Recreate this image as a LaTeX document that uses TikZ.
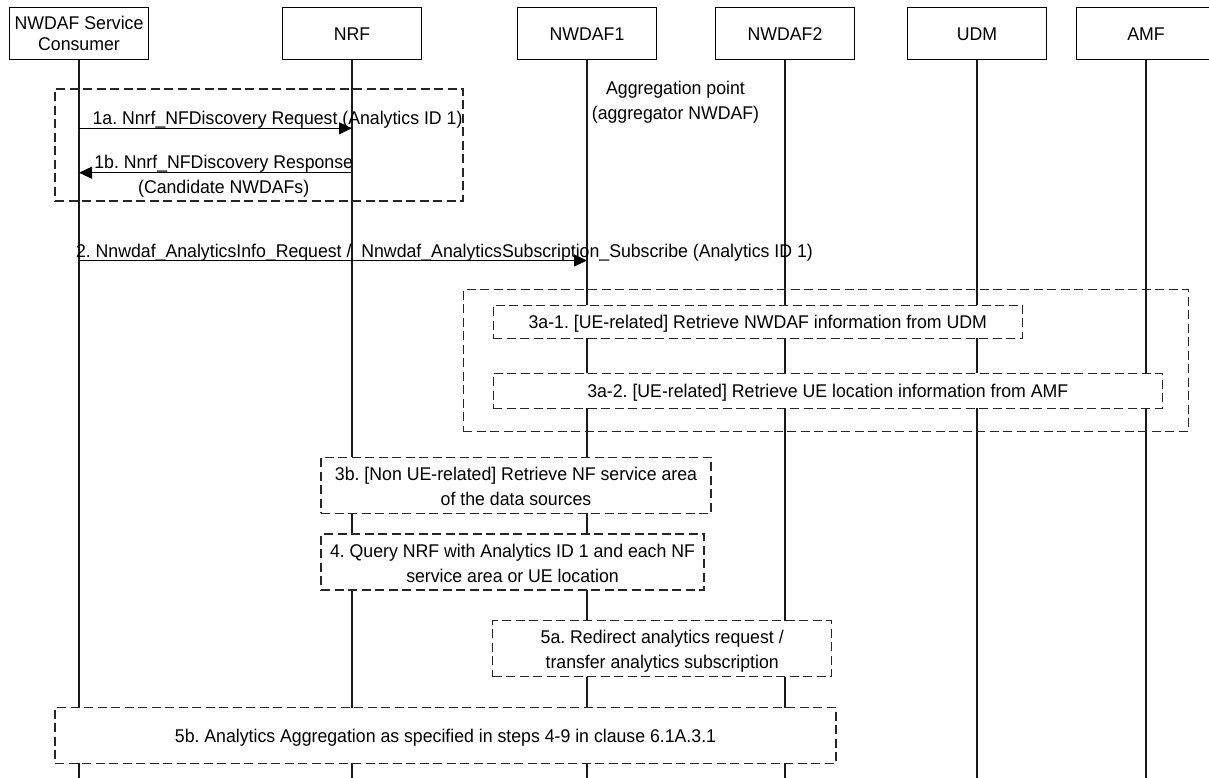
\documentclass[tikz,border=0pt]{standalone}
\usepackage{fontspec}
\setmainfont{Liberation Sans}[FakeStretch=0.962]
\usetikzlibrary{arrows.meta}
\newcommand{\mytwo}[2]{\begin{tabular}[b]{@{}c@{}}#1\\#2\end{tabular}}
\frenchspacing
\begin{document}
\frenchspacing
\begin{tikzpicture}[x=1pt,y=-1pt,
  every node/.style={font=\fontsize{18.4}{25}\selectfont},
  hdr/.style={draw=black, line width=1pt, fill=white, minimum width=139pt, minimum height=52pt, inner sep=0pt, text height=13.4pt, text depth=0pt},
  life/.style={line width=1.1pt, draw=black!90},
  grpbox/.style={draw=black!85, line width=1.1pt, dash pattern=on 9pt off 4.5pt, inner sep=0pt},
  stepbox/.style={grpbox, fill=white, text height=13.4pt, text depth=0pt},
  tall/.style={text height=40pt, text depth=0pt},
  msg/.style={line width=1pt, draw=black, -{Triangle[length=13pt,width=12pt]}},
  lbl/.style={inner sep=0pt, anchor=base}]
\useasboundingbox (0,0) rectangle (1209,778);
\fill[white] (0,0) rectangle (1209,778);
% header boxes
\node[hdr, text height=34pt, font=\fontsize{18.4}{21}\selectfont] (cons) at (79,34) {\mytwo{NWDAF Service}{Consumer}};
\node[hdr] (nrf) at (352,34) {NRF};
\node[hdr] (nw1) at (587,34) {NWDAF1};
\node[hdr] (nw2) at (785,34) {NWDAF2};
\node[hdr] (udm) at (977,34) {UDM};
\node[hdr] (amf) at (1146,34) {AMF};
\coordinate (bottom) at (0,778);
% lifelines
\foreach \n in {cons,nrf,nw1,nw2,udm,amf} \draw[life] (\n.south) -- (\n |- bottom);
% group frames
\node[grpbox, minimum width=408pt, minimum height=112pt] (g1) at (259,145) {};
\node[grpbox, minimum width=725pt, minimum height=141.7pt] (g3a) at (825.8,360.2) {};
% step boxes
\node[stepbox, minimum width=529pt, minimum height=33.3pt] (s3a1) at (757.8,321.7) {3a-1. [UE-related] Retrieve NWDAF information from UDM};
\node[stepbox, minimum width=669pt, minimum height=35pt] (s3a2) at (827.8,390.8) {3a-2. [UE-related] Retrieve UE location information from AMF};
\node[stepbox, tall, minimum width=390pt, minimum height=56pt] (s3b) at (516,485.3) {\mytwo{3b. [Non UE-related] Retrieve NF service area}{of the data sources}};
\node[stepbox, tall, minimum width=383pt, minimum height=56pt] (s4) at (512.5,562) {\mytwo{4. Query NRF with Analytics ID 1 and each NF}{service area or UE location}};
\node[stepbox, tall, minimum width=339pt, minimum height=56pt] (s5a) at (662.2,648.7) {\mytwo{5a. Redirect analytics request /}{transfer analytics subscription}};
\node[stepbox, minimum width=781pt, minimum height=55.8pt] (s5b) at (445.5,735.4) {5b. Analytics Aggregation as specified in steps 4-9 in clause 6.1A.3.1};
% messages
\coordinate (y1a) at (0,128.3);
\coordinate (y1b) at (0,172.7);
\coordinate (y2) at (0,260.5);
\draw[msg] (cons |- y1a) -- (nrf |- y1a);
\draw[msg] (nrf |- y1b) -- (cons |- y1b);
\draw[msg] (cons |- y2) -- (nw1 |- y2);
\node[lbl] (l1a) at (277.5,124.3) {1a. Nnrf\_NFDiscovery Request (Analytics ID 1)};
\node[lbl] (l1b) at (223.7,193.3) {\mytwo{1b. Nnrf\_NFDiscovery Response}{(Candidate NWDAFs)}};
\node[lbl] (l2) at (444.5,257) {2. Nnwdaf\_AnalyticsInfo\_Request / \ Nnwdaf\_AnalyticsSubscription\_Subscribe (Analytics ID 1)};
\node[lbl] (lagg) at (675.5,119.3) {\mytwo{Aggregation point}{(aggregator NWDAF)}};
\end{tikzpicture}
\end{document}
